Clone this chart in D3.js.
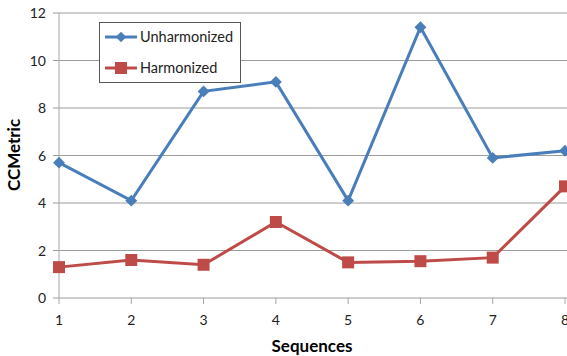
<!DOCTYPE html>
<html>
<head>
<meta charset="utf-8">
<script src="https://cdn.jsdelivr.net/npm/d3@7"></script>
<style>
  body { margin: 0; background: #fff; }
  svg { display: block; font-family: Lato, "Open Sans", sans-serif; }
</style>
</head>
<body>
<svg id="chart" width="567" height="356"></svg>
<script>
var sequences = [1, 2, 3, 4, 5, 6, 7, 8];
var unharmonized = [5.7, 4.1, 8.7, 9.1, 4.1, 11.4, 5.9, 6.2];
var harmonized = [1.3, 1.6, 1.4, 3.2, 1.5, 1.55, 1.7, 4.7];
var yTicks = [0, 2, 4, 6, 8, 10, 12];

var svg = d3.select("#chart");
var x = d3.scaleLinear().domain([1, 8]).range([59, 565]);
var y = d3.scaleLinear().domain([0, 12]).range([298, 13]);

// gridlines
svg.append("g")
  .selectAll("line")
  .data(yTicks)
  .enter()
  .append("line")
  .attr("x1", 53).attr("x2", 567)
  .attr("y1", function(d) { return y(d); })
  .attr("y2", function(d) { return y(d); })
  .attr("stroke", "#9c9c9c")
  .attr("stroke-width", 1);

// y axis line
svg.append("line")
  .attr("x1", 59).attr("x2", 59)
  .attr("y1", y(12)).attr("y2", y(0))
  .attr("stroke", "#a6a6a6");

// x ticks
svg.append("g")
  .selectAll("line")
  .data(sequences)
  .enter()
  .append("line")
  .attr("x1", function(d) { return x(d); })
  .attr("x2", function(d) { return x(d); })
  .attr("y1", y(0)).attr("y2", y(0) + 6)
  .attr("stroke", "#a6a6a6");

// tick labels
svg.append("g")
  .selectAll("text")
  .data(yTicks)
  .enter()
  .append("text")
  .attr("x", 46)
  .attr("y", function(d) { return y(d) + 5; })
  .attr("text-anchor", "end")
  .attr("font-size", 14)
  .attr("fill", "#222")
  .text(function(d) { return d; });

svg.append("g")
  .selectAll("text")
  .data(sequences)
  .enter()
  .append("text")
  .attr("x", function(d) { return x(d); })
  .attr("y", 325)
  .attr("text-anchor", "middle")
  .attr("font-size", 14)
  .attr("fill", "#222")
  .text(function(d) { return d; });

// axis titles
svg.append("text")
  .attr("x", 312).attr("y", 352)
  .attr("text-anchor", "middle")
  .attr("font-size", 17)
  .attr("font-weight", "bold")
  .text("Sequences");

svg.append("text")
  .attr("transform", "translate(20,155) rotate(-90)")
  .attr("text-anchor", "middle")
  .attr("font-size", 17)
  .attr("font-weight", "bold")
  .text("CCMetric");

var line = d3.line()
  .x(function(d, i) { return x(sequences[i]); })
  .y(function(d) { return y(d); });

var blue = "#4a7ebb", red = "#be4b48";

// series lines
svg.append("path").datum(unharmonized)
  .attr("d", line).attr("fill", "none")
  .attr("stroke", blue).attr("stroke-width", 3);
svg.append("path").datum(harmonized)
  .attr("d", line).attr("fill", "none")
  .attr("stroke", red).attr("stroke-width", 3);

// markers
svg.append("g")
  .selectAll("path")
  .data(unharmonized)
  .enter()
  .append("path")
  .attr("d", d3.symbol().type(d3.symbolDiamond2).size(90))
  .attr("transform", function(d, i) { return "translate(" + x(sequences[i]) + "," + y(d) + ")"; })
  .attr("fill", blue);

svg.append("g")
  .selectAll("rect")
  .data(harmonized)
  .enter()
  .append("rect")
  .attr("x", function(d, i) { return x(sequences[i]) - 6; })
  .attr("y", function(d) { return y(d) - 6; })
  .attr("width", 12).attr("height", 12)
  .attr("fill", red);

// legend
var leg = svg.append("g");
leg.append("rect")
  .attr("x", 99.5).attr("y", 22.5)
  .attr("width", 141).attr("height", 60)
  .attr("fill", "#fff").attr("stroke", "#555");

var legItems = [
  { name: "Unharmonized", color: blue, type: "diamond", yy: 37 },
  { name: "Harmonized", color: red, type: "square", yy: 68 }
];
legItems.forEach(function(it) {
  leg.append("line")
    .attr("x1", 105).attr("x2", 137)
    .attr("y1", it.yy).attr("y2", it.yy)
    .attr("stroke", it.color).attr("stroke-width", 3);
  if (it.type === "diamond") {
    leg.append("path")
      .attr("d", d3.symbol().type(d3.symbolDiamond2).size(70))
      .attr("transform", "translate(121," + it.yy + ")")
      .attr("fill", it.color);
  } else {
    leg.append("rect")
      .attr("x", 115).attr("y", it.yy - 6)
      .attr("width", 12).attr("height", 12)
      .attr("fill", it.color);
  }
  leg.append("text")
    .attr("x", 140).attr("y", it.yy + 5)
    .attr("font-size", 14.5)
    .attr("fill", "#222")
    .text(it.name);
});
</script>
</body>
</html>
